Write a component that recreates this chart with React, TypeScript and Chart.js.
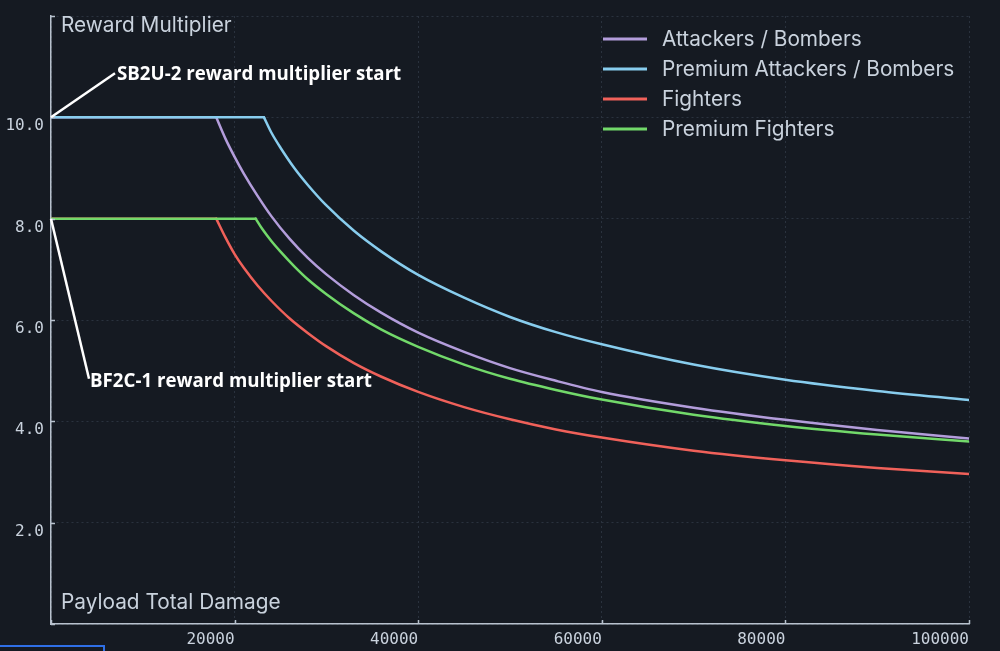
import React, { useEffect, useRef } from 'react';
import { Chart, registerables } from 'chart.js';

Chart.register(...registerables);

// ---------- data ----------
const SERIES_LABELS = ['Attackers / Bombers', 'Premium Attackers / Bombers', 'Fighters', 'Premium Fighters'];
const SERIES_COLORS = ['#b39ddb', '#88cdee', '#f0615a', '#72d96a'];

// flat part: [start damage, end damage] at the starting multiplier
const ATTACKERS_START = 10;
const ATTACKERS_FLAT = [0, 18000];
const ATTACKERS_X = [18000, 19000, 20000, 21000, 22500, 24000, 26000, 28000, 30000, 33000, 36000, 40000, 45000, 50000, 55000, 60000, 70000, 80000, 90000, 100000];
const ATTACKERS_Y = [10, 9.58, 9.22, 8.89, 8.45, 8.05, 7.6, 7.22, 6.9, 6.49, 6.14, 5.75, 5.37, 5.05, 4.8, 4.58, 4.27, 4.03, 3.83, 3.66];

const PREM_ATTACKERS_START = 10;
const PREM_ATTACKERS_FLAT = [0, 23200];
const PREM_ATTACKERS_X = [23200, 24000, 25000, 26500, 28000, 30000, 33000, 36000, 40000, 45000, 50000, 55000, 60000, 70000, 80000, 90000, 100000];
const PREM_ATTACKERS_Y = [10, 9.7, 9.4, 9.0, 8.66, 8.26, 7.76, 7.35, 6.89, 6.44, 6.06, 5.76, 5.52, 5.12, 4.82, 4.6, 4.42];

const FIGHTERS_START = 8;
const FIGHTERS_FLAT = [0, 18000];
const FIGHTERS_X = [18000, 19000, 20000, 21000, 22500, 24000, 26000, 28000, 30000, 33000, 36000, 40000, 45000, 50000, 55000, 60000, 70000, 80000, 90000, 100000];
const FIGHTERS_Y = [8, 7.63, 7.3, 7.03, 6.68, 6.38, 6.03, 5.74, 5.48, 5.15, 4.88, 4.58, 4.28, 4.04, 3.84, 3.68, 3.42, 3.23, 3.08, 2.96];

const PREM_FIGHTERS_START = 8;
const PREM_FIGHTERS_FLAT = [0, 22300];
const PREM_FIGHTERS_X = [22300, 23000, 24000, 25000, 26500, 28000, 30000, 33000, 36000, 40000, 45000, 50000, 55000, 60000, 70000, 80000, 90000, 100000];
const PREM_FIGHTERS_Y = [8, 7.8, 7.56, 7.35, 7.06, 6.8, 6.51, 6.13, 5.81, 5.47, 5.12, 4.84, 4.62, 4.43, 4.13, 3.91, 3.74, 3.6];

const X_MIN = 0;
const X_MAX = 100000;
const X_STEP = 20000;
const Y_MIN = 0;
const Y_MAX = 12;
const Y_STEP = 2;

const AXIS_TITLE_Y = 'Reward Multiplier';
const AXIS_TITLE_X = 'Payload Total Damage';
const NOTE_TOP = 'SB2U-2 reward multiplier start';
const NOTE_BOTTOM = 'BF2C-1 reward multiplier start';

// ---------- styling ----------
const BG = '#151a22';
const AXIS_COLOR = '#b8c2ce';
const GRID_COLOR = '#2a323e';
const TEXT_COLOR = '#c9d2dd';
const MONO = '"DejaVu Sans Mono", monospace';
const SANS_FONT = '20.8px Inter, Roboto, sans-serif';
const NOTE_FONT = 'bold 18.7px "Open Sans", Lato, sans-serif';

function flatData(flat: number[], start: number) {
  return flat.map((x) => ({ x, y: start }));
}
function curveData(xs: number[], ys: number[]) {
  return xs.map((x, i) => ({ x, y: ys[i] }));
}

const overlayPlugin = {
  id: 'overlay',
  afterDraw(chart: any) {
    const { ctx, chartArea: ca, scales } = chart;
    const xs = scales.x;
    const ys = scales.y;
    ctx.save();
    // inward tick marks
    ctx.strokeStyle = AXIS_COLOR;
    ctx.lineWidth = 1.5;
    ctx.beginPath();
    for (const t of ys.ticks) {
      const py = Math.round(ys.getPixelForValue(t.value)) + 0.5;
      ctx.moveTo(ca.left, py);
      ctx.lineTo(ca.left + 4, py);
    }
    for (const t of xs.ticks) {
      const px = Math.round(xs.getPixelForValue(t.value)) + 0.5;
      ctx.moveTo(px, ca.bottom);
      ctx.lineTo(px, ca.bottom - 4);
    }
    ctx.stroke();

    // axis titles inside plot
    ctx.fillStyle = TEXT_COLOR;
    ctx.font = SANS_FONT;
    ctx.textAlign = 'left';
    ctx.textBaseline = 'alphabetic';
    ctx.fillText(AXIS_TITLE_Y, ca.left + 10, ca.top + 15.5);
    ctx.fillText(AXIS_TITLE_X, ca.left + 10, ca.bottom - 15);

    // legend (top right, inside)
    const lx = ca.right - 366;
    SERIES_LABELS.forEach((label, i) => {
      const y = ca.top + 23 + i * 30;
      ctx.strokeStyle = SERIES_COLORS[i];
      ctx.lineWidth = 3;
      ctx.beginPath();
      ctx.moveTo(lx, y);
      ctx.lineTo(lx + 44, y);
      ctx.stroke();
      ctx.fillStyle = TEXT_COLOR;
      ctx.font = SANS_FONT;
      ctx.fillText(label, lx + 59, y + 7);
    });

    // annotations
    ctx.strokeStyle = '#ffffff';
    ctx.fillStyle = '#ffffff';
    ctx.lineWidth = 2.5;
    ctx.font = NOTE_FONT;
    const a1x = xs.getPixelForValue(0);
    const a1y = ys.getPixelForValue(ATTACKERS_START);
    ctx.beginPath();
    ctx.moveTo(a1x, a1y);
    ctx.lineTo(a1x + 64, a1y - 44);
    ctx.stroke();
    ctx.fillText(NOTE_TOP, a1x + 66, a1y - 37.5);

    const a2x = xs.getPixelForValue(0);
    const a2y = ys.getPixelForValue(FIGHTERS_START);
    ctx.beginPath();
    ctx.moveTo(a2x, a2y);
    ctx.lineTo(a2x + 38, a2y + 160);
    ctx.stroke();
    ctx.fillText(NOTE_BOTTOM, a2x + 39, a2y + 168.5);
    ctx.restore();
  },
};

export default function App() {
  const ref = useRef<HTMLCanvasElement>(null);
  useEffect(() => {
    document.body.style.margin = '0';
    document.body.style.background = BG;
    const lineBase = {
      pointRadius: 0,
      borderWidth: 2.5,
      fill: false,
      borderCapStyle: 'round' as const,
      borderJoinStyle: 'round' as const,
    };
    // index order: earlier datasets are drawn on top
    const datasets: any[] = [
      { ...lineBase, label: SERIES_LABELS[1], borderColor: SERIES_COLORS[1], data: flatData(PREM_ATTACKERS_FLAT, PREM_ATTACKERS_START), tension: 0 },
      { ...lineBase, label: SERIES_LABELS[1], borderColor: SERIES_COLORS[1], data: curveData(PREM_ATTACKERS_X, PREM_ATTACKERS_Y), cubicInterpolationMode: 'monotone' },
      { ...lineBase, label: SERIES_LABELS[3], borderColor: SERIES_COLORS[3], data: flatData(PREM_FIGHTERS_FLAT, PREM_FIGHTERS_START), tension: 0 },
      { ...lineBase, label: SERIES_LABELS[3], borderColor: SERIES_COLORS[3], data: curveData(PREM_FIGHTERS_X, PREM_FIGHTERS_Y), cubicInterpolationMode: 'monotone' },
      { ...lineBase, label: SERIES_LABELS[0], borderColor: SERIES_COLORS[0], data: flatData(ATTACKERS_FLAT, ATTACKERS_START), tension: 0 },
      { ...lineBase, label: SERIES_LABELS[0], borderColor: SERIES_COLORS[0], data: curveData(ATTACKERS_X, ATTACKERS_Y), cubicInterpolationMode: 'monotone' },
      { ...lineBase, label: SERIES_LABELS[2], borderColor: SERIES_COLORS[2], data: flatData(FIGHTERS_FLAT, FIGHTERS_START), tension: 0 },
      { ...lineBase, label: SERIES_LABELS[2], borderColor: SERIES_COLORS[2], data: curveData(FIGHTERS_X, FIGHTERS_Y), cubicInterpolationMode: 'monotone' },
    ];
    const chart = new Chart(ref.current as HTMLCanvasElement, {
      type: 'line',
      data: { datasets },
      options: {
        responsive: false,
        animation: false,
        devicePixelRatio: 1,
        layout: { padding: { top: 16, right: 31, left: 0, bottom: 0 } },
        plugins: { legend: { display: false }, tooltip: { enabled: false } },
        scales: {
          x: {
            type: 'linear',
            min: X_MIN,
            max: X_MAX,
            afterFit: (s: any) => {
              s.height = 27;
              s.paddingLeft = 0;
              s.paddingRight = 0;
            },
            ticks: {
              stepSize: X_STEP,
              align: 'end',
              autoSkip: false,
              maxRotation: 0,
              padding: 6,
              color: TEXT_COLOR,
              font: { family: MONO, size: 16 },
              callback: (v: any) => (v === 0 ? '' : String(v)),
            },
            grid: { color: GRID_COLOR, lineWidth: 1, drawTicks: false },
            border: { color: AXIS_COLOR, width: 1.5, dash: [2, 3] },
          },
          y: {
            type: 'linear',
            min: Y_MIN,
            max: Y_MAX,
            afterFit: (s: any) => {
              s.width = 51;
              s.paddingTop = 0;
              s.paddingBottom = 0;
            },
            ticks: {
              stepSize: Y_STEP,
              padding: 7,
              labelOffset: 9,
              color: TEXT_COLOR,
              font: { family: MONO, size: 16 },
              callback: (v: any) => (v === Y_MIN || v === Y_MAX ? '' : Number(v).toFixed(1)),
            },
            grid: { color: GRID_COLOR, lineWidth: 1, drawTicks: false },
            border: { color: AXIS_COLOR, width: 1.5, dash: [2, 3] },
          },
        },
      } as any,
      plugins: [overlayPlugin],
    });
    return () => chart.destroy();
  }, []);

  return (
    <div style={{ position: 'relative', width: 1000, height: 651, background: BG, overflow: 'hidden' }}>
      <canvas ref={ref} width={1000} height={651} style={{ display: 'block', width: 1000, height: 651 }} />
      <div
        style={{
          position: 'absolute',
          left: -3,
          top: 645,
          width: 108,
          height: 20,
          border: '2px solid #2f6fe6',
          boxSizing: 'border-box',
        }}
      />
    </div>
  );
}
